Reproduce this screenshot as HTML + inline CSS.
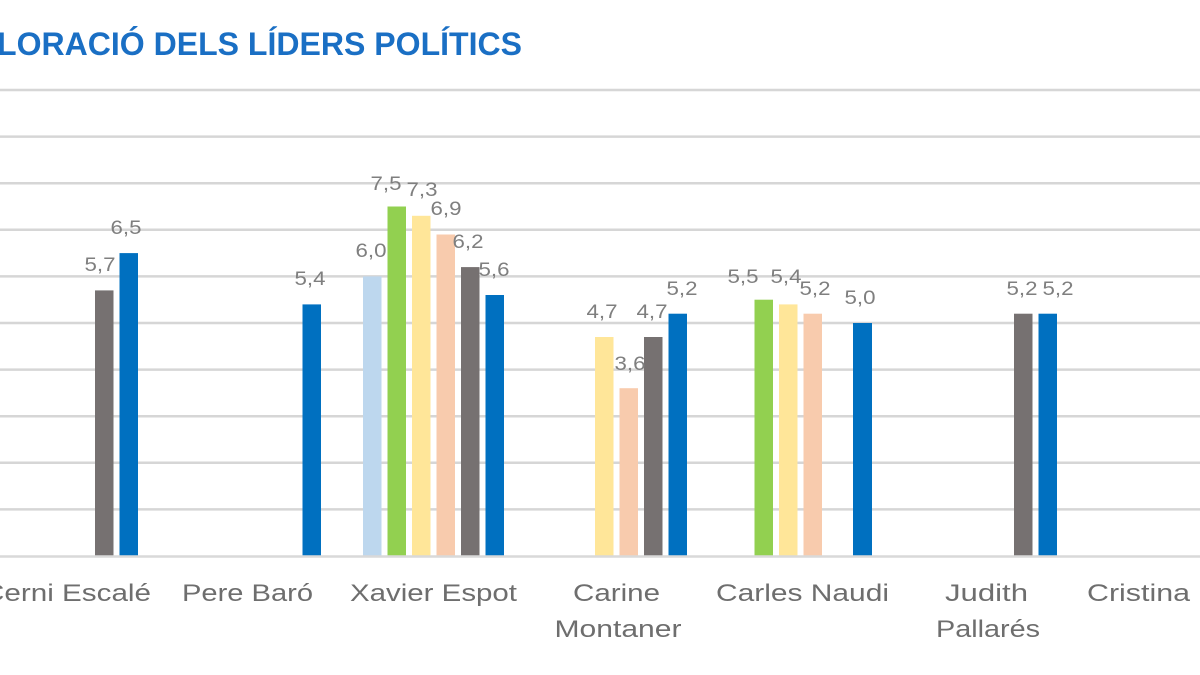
<!DOCTYPE html>
<html>
<head>
<meta charset="utf-8">
<style>
  html,body{margin:0;padding:0;background:#ffffff;}
  svg{display:block;}
  .v{font-family:"Liberation Sans",sans-serif;font-size:19px;fill:#7f7f7f;text-anchor:middle;}
  .c{font-family:"Liberation Sans",sans-serif;font-size:24px;fill:#6e6e6e;text-anchor:middle;}
</style>
</head>
<body>
<svg width="1200" height="675" viewBox="0 0 1200 675" xmlns="http://www.w3.org/2000/svg">
  <rect x="0" y="0" width="1200" height="675" fill="#ffffff"/>
  <!-- title -->
  <text x="-3" y="55" font-family="Liberation Sans, sans-serif" font-weight="bold" font-size="32" fill="#1a6fc4" textLength="525" lengthAdjust="spacingAndGlyphs">LORACIÓ DELS LÍDERS POLÍTICS</text>

  <!-- gridlines -->
  <g stroke="#d6d6d6" stroke-width="2.5">
    <line x1="0" y1="90" x2="1200" y2="90"/>
    <line x1="0" y1="136.6" x2="1200" y2="136.6"/>
    <line x1="0" y1="183.2" x2="1200" y2="183.2"/>
    <line x1="0" y1="229.8" x2="1200" y2="229.8"/>
    <line x1="0" y1="276.4" x2="1200" y2="276.4"/>
    <line x1="0" y1="323" x2="1200" y2="323"/>
    <line x1="0" y1="369.6" x2="1200" y2="369.6"/>
    <line x1="0" y1="416.2" x2="1200" y2="416.2"/>
    <line x1="0" y1="462.8" x2="1200" y2="462.8"/>
    <line x1="0" y1="509.4" x2="1200" y2="509.4"/>
  </g>

  <!-- bars (0 at y=556, 46.6 px per unit) -->
  <g>
    <!-- Cerni Escalé -->
    <rect x="95" y="290.4" width="18.5" height="265.6" fill="#767171"/>
    <rect x="119.5" y="253.1" width="18.5" height="302.9" fill="#0070c0"/>
    <!-- Pere Baró -->
    <rect x="302.5" y="304.4" width="18.5" height="251.6" fill="#0070c0"/>
    <!-- Xavier Espot -->
    <rect x="363" y="276.4" width="18.5" height="279.6" fill="#bdd7ee"/>
    <rect x="387.5" y="206.5" width="18.5" height="349.5" fill="#92d050"/>
    <rect x="412" y="215.8" width="18.5" height="340.2" fill="#ffe699"/>
    <rect x="436.5" y="234.5" width="18.5" height="321.5" fill="#f8cbad"/>
    <rect x="461" y="267.1" width="18.5" height="288.9" fill="#767171"/>
    <rect x="485.5" y="295" width="18.5" height="261" fill="#0070c0"/>
    <!-- Carine Montaner -->
    <rect x="595" y="337" width="18.5" height="219" fill="#ffe699"/>
    <rect x="619.5" y="388.2" width="18.5" height="167.8" fill="#f8cbad"/>
    <rect x="644" y="337" width="18.5" height="219" fill="#767171"/>
    <rect x="668.5" y="313.7" width="18.5" height="242.3" fill="#0070c0"/>
    <!-- Carles Naudi -->
    <rect x="754.5" y="299.7" width="18.5" height="256.3" fill="#92d050"/>
    <rect x="779" y="304.4" width="18.5" height="251.6" fill="#ffe699"/>
    <rect x="803.5" y="313.7" width="18.5" height="242.3" fill="#f8cbad"/>
    <rect x="853" y="323" width="19" height="233" fill="#0070c0"/>
    <!-- Judith Pallarés -->
    <rect x="1014" y="313.7" width="18.5" height="242.3" fill="#767171"/>
    <rect x="1038.5" y="313.7" width="18.5" height="242.3" fill="#0070c0"/>
  </g>

  <!-- baseline -->
  <line x1="0" y1="556.5" x2="1200" y2="556.5" stroke="#d9d9d9" stroke-width="2.5"/>

  <!-- value labels -->
  <g>
    <text class="v" x="100" y="271" textLength="31" lengthAdjust="spacingAndGlyphs">5,7</text>
    <text class="v" x="126" y="234" textLength="31" lengthAdjust="spacingAndGlyphs">6,5</text>
    <text class="v" x="310" y="285" textLength="31" lengthAdjust="spacingAndGlyphs">5,4</text>

    <text class="v" x="371" y="257" textLength="31" lengthAdjust="spacingAndGlyphs">6,0</text>
    <text class="v" x="386" y="190" textLength="31" lengthAdjust="spacingAndGlyphs">7,5</text>
    <text class="v" x="422" y="196" textLength="31" lengthAdjust="spacingAndGlyphs">7,3</text>
    <text class="v" x="446" y="215" textLength="31" lengthAdjust="spacingAndGlyphs">6,9</text>
    <text class="v" x="468" y="248" textLength="31" lengthAdjust="spacingAndGlyphs">6,2</text>
    <text class="v" x="494" y="276" textLength="31" lengthAdjust="spacingAndGlyphs">5,6</text>

    <text class="v" x="602" y="318" textLength="31" lengthAdjust="spacingAndGlyphs">4,7</text>
    <text class="v" x="630" y="370" textLength="31" lengthAdjust="spacingAndGlyphs">3,6</text>
    <text class="v" x="652" y="318" textLength="31" lengthAdjust="spacingAndGlyphs">4,7</text>
    <text class="v" x="682" y="295" textLength="31" lengthAdjust="spacingAndGlyphs">5,2</text>

    <text class="v" x="743" y="283" textLength="31" lengthAdjust="spacingAndGlyphs">5,5</text>
    <text class="v" x="786" y="283" textLength="31" lengthAdjust="spacingAndGlyphs">5,4</text>
    <text class="v" x="815" y="295" textLength="31" lengthAdjust="spacingAndGlyphs">5,2</text>
    <text class="v" x="860" y="304" textLength="31" lengthAdjust="spacingAndGlyphs">5,0</text>

    <text class="v" x="1022" y="295" textLength="31" lengthAdjust="spacingAndGlyphs">5,2</text>
    <text class="v" x="1058" y="295" textLength="31" lengthAdjust="spacingAndGlyphs">5,2</text>
  </g>

  <!-- category labels -->
  <g>
    <text class="c" x="67" y="601" textLength="168" lengthAdjust="spacingAndGlyphs">Cerni Escalé</text>
    <text class="c" x="247.5" y="601" textLength="131" lengthAdjust="spacingAndGlyphs">Pere Baró</text>
    <text class="c" x="433.5" y="601" textLength="167" lengthAdjust="spacingAndGlyphs">Xavier Espot</text>
    <text class="c" x="616.5" y="601" textLength="87" lengthAdjust="spacingAndGlyphs">Carine</text>
    <text class="c" x="618" y="637" textLength="127" lengthAdjust="spacingAndGlyphs">Montaner</text>
    <text class="c" x="802.5" y="601" textLength="173" lengthAdjust="spacingAndGlyphs">Carles Naudi</text>
    <text class="c" x="986.5" y="601" textLength="83" lengthAdjust="spacingAndGlyphs">Judith</text>
    <text class="c" x="988" y="637" textLength="104" lengthAdjust="spacingAndGlyphs">Pallarés</text>
    <text class="c" x="1138.5" y="601" textLength="103" lengthAdjust="spacingAndGlyphs">Cristina</text>
  </g>
</svg>
</body>
</html>
